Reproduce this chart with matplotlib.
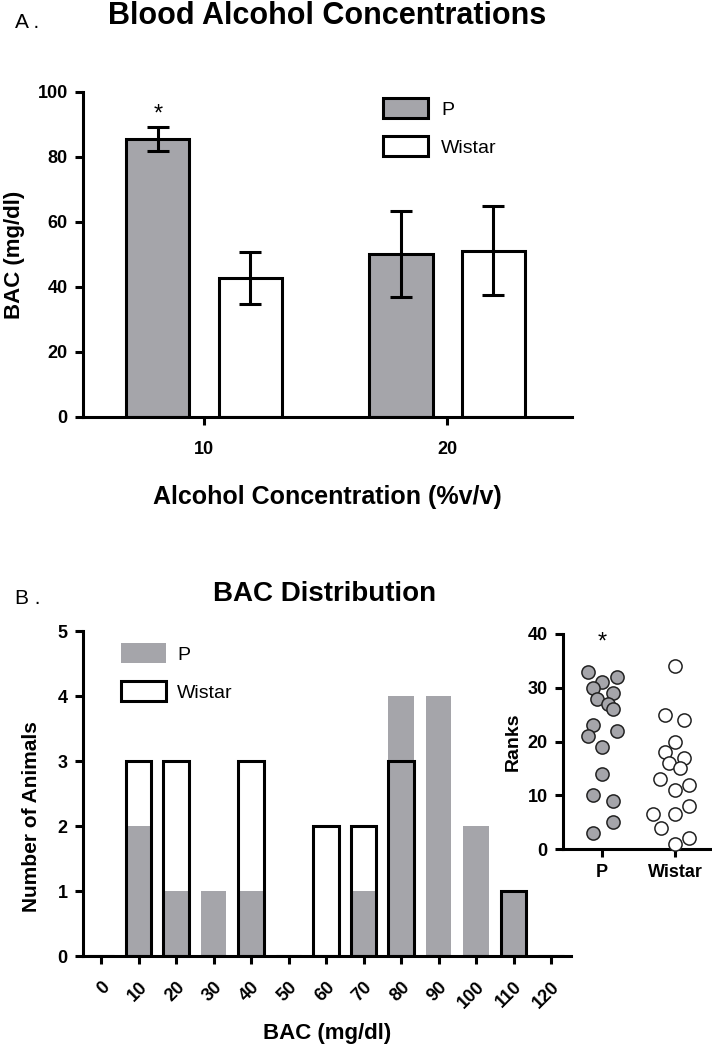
import numpy as np
import matplotlib
matplotlib.use("Agg")
import matplotlib.pyplot as plt
from matplotlib.patches import Patch

plt.rcParams["font.family"] = ["Liberation Sans", "DejaVu Sans"]

# ======================
# DATA
# ======================

# Panel A - mean BAC (mg/dl) with SEM
conc_labels = ["10", "20"]
p_mean = [85.5, 50.2]
p_sem = [3.8, 13.2]
wistar_mean = [42.8, 51.1]
wistar_sem = [8.0, 13.7]

# Panel B - histogram counts per 10 mg/dl bin
bac_bins = [0, 10, 20, 30, 40, 50, 60, 70, 80, 90, 100, 110, 120]
p_counts = [0, 2, 1, 1, 1, 0, 0, 1, 4, 4, 2, 1, 0]
wistar_counts = [0, 3, 3, 0, 3, 0, 2, 2, 3, 0, 0, 1, 0]

# Panel B inset - ranks (with horizontal scatter offsets)
rank_groups = ["P", "Wistar"]
p_ranks = [33, 31, 32, 30, 29, 28, 27, 26, 23, 22, 21, 19, 14, 10, 9, 5, 3]
p_jitter = [-0.19, 0.0, 0.21, -0.12, 0.15, -0.07, 0.08, 0.15, -0.12, 0.21,
            -0.19, 0.0, 0.0, -0.12, 0.15, 0.15, -0.12]
w_ranks = [34, 25, 24, 20, 18, 17, 16, 15, 13, 12, 11, 8, 6.5, 6.5, 4, 2, 1]
w_jitter = [0.0, -0.14, 0.12, 0.0, -0.14, 0.12, -0.08, 0.07, -0.21, 0.19,
            0.0, 0.19, -0.30, 0.0, -0.19, 0.19, 0.0]

# ======================
# STYLE
# ======================

GRAY = "#a5a5aa"
LW = 2.2

def style_axes(ax, labelsize):
    for s in ("top", "right"):
        ax.spines[s].set_visible(False)
    for s in ("left", "bottom"):
        ax.spines[s].set_linewidth(LW)
    ax.tick_params(width=LW, length=6, labelsize=labelsize, pad=5)
    for lab in ax.get_xticklabels() + ax.get_yticklabels():
        lab.set_fontweight("bold")


fig = plt.figure(figsize=(7.12, 10.5), dpi=100)

# ======================
# PANEL A
# ======================

axA = fig.add_axes([0.1166, 0.6029, 0.6868, 0.3095])
x = np.arange(len(conc_labels))
off, bw = 0.19, 0.26
axA.bar(x - off, p_mean, bw, color=GRAY, edgecolor="black", linewidth=LW, zorder=2)
axA.bar(x + off, wistar_mean, bw, color="white", edgecolor="black", linewidth=LW, zorder=2)
axA.errorbar(x - off, p_mean, yerr=p_sem, fmt="none", ecolor="black",
             elinewidth=LW, capsize=8, capthick=LW, zorder=3)
axA.errorbar(x + off, wistar_mean, yerr=wistar_sem, fmt="none", ecolor="black",
             elinewidth=LW, capsize=8, capthick=LW, zorder=3)
axA.text(x[0] - off, 93, "*", ha="center", va="center", fontsize=17)

axA.set_xlim(-0.498, 1.514)
axA.set_ylim(0, 100)
axA.set_yticks([0, 20, 40, 60, 80, 100])
axA.set_xticks(x)
axA.set_xticklabels(conc_labels)
style_axes(axA, 13)
axA.tick_params(axis="x", pad=11)
axA.set_ylabel("BAC (mg/dl)", fontsize=16, fontweight="bold", labelpad=9)
axA.set_xlabel("Alcohol Concentration (%v/v)", fontsize=18, fontweight="bold", labelpad=20)

handlesA = [Patch(facecolor=GRAY, edgecolor="black", linewidth=LW, label="P"),
            Patch(facecolor="white", edgecolor="black", linewidth=LW, label="Wistar")]
fig.legend(handles=handlesA, loc="upper left", bbox_to_anchor=(383 / 712, 1 - 98 / 1050),
           frameon=False, fontsize=14, handlelength=2.3, handleheight=1.2,
           labelspacing=0.9, handletextpad=0.7, borderpad=0, borderaxespad=0)

fig.text(15 / 712, 1 - 22 / 1050, "A .", fontsize=15, va="center", ha="left")
fig.text(327 / 712, 1 - 16 / 1050, "Blood Alcohol Concentrations", fontsize=22,
         fontweight="bold", ha="center", va="center")

# ======================
# PANEL B - histogram
# ======================

axB = fig.add_axes([0.1166, 0.0895, 0.6854, 0.3095])
hw = 6.8
axB.bar(bac_bins, wistar_counts, hw, color="white", linewidth=0, zorder=1)
axB.bar(bac_bins, p_counts, hw, color=GRAY, linewidth=0, zorder=2)
axB.bar(bac_bins, wistar_counts, hw, facecolor="none", edgecolor="black",
        linewidth=LW, zorder=3)
axB.set_xlim(-4.8, 125.3)
axB.set_ylim(0, 5)
axB.set_xticks(bac_bins)
axB.set_xticklabels([str(b) for b in bac_bins], rotation=45, ha="right",
                    rotation_mode="anchor")
axB.set_yticks(range(6))
style_axes(axB, 13)
axB.tick_params(axis="x", pad=10)
axB.set_ylabel("Number of Animals", fontsize=15, fontweight="bold")
axB.yaxis.set_label_coords(-0.086, 0.43)
axB.set_xlabel("BAC (mg/dl)", fontsize=16, fontweight="bold", labelpad=8)

handlesB = [Patch(facecolor=GRAY, edgecolor="none", label="P"),
            Patch(facecolor="white", edgecolor="black", linewidth=LW, label="Wistar")]
fig.legend(handles=handlesB, loc="upper left", bbox_to_anchor=(121 / 712, 1 - 643 / 1050),
           frameon=False, fontsize=14, handlelength=2.3, handleheight=1.2,
           labelspacing=0.9, handletextpad=0.6, borderpad=0, borderaxespad=0)

fig.text(15 / 712, 1 - 599 / 1050, "B .", fontsize=15, va="center", ha="left")
fig.text(325 / 712, 1 - 594 / 1050, "BAC Distribution", fontsize=20,
         fontweight="bold", ha="center", va="center")

# ======================
# PANEL B - inset ranks
# ======================

axC = fig.add_axes([0.7907, 0.1914, 0.2065, 0.2048])
axC.scatter(np.array(p_jitter), p_ranks, s=9.5 ** 2, facecolor=GRAY,
            edgecolor="#222222", linewidth=1.1, zorder=3, clip_on=False)
axC.scatter(1 + np.array(w_jitter), w_ranks, s=9.5 ** 2, facecolor="white",
            edgecolor="#222222", linewidth=1.1, zorder=3, clip_on=False)
axC.text(0, 38.5, "*", ha="center", va="center", fontsize=17)
axC.set_xlim(-0.534, 1.48)
axC.set_ylim(0, 40)
axC.set_yticks([0, 10, 20, 30, 40])
axC.set_xticks([0, 1])
axC.set_xticklabels(rank_groups)
style_axes(axC, 13)
axC.set_ylabel("Ranks", fontsize=14, fontweight="bold", labelpad=4)

fig.savefig("out.png", dpi=100)
